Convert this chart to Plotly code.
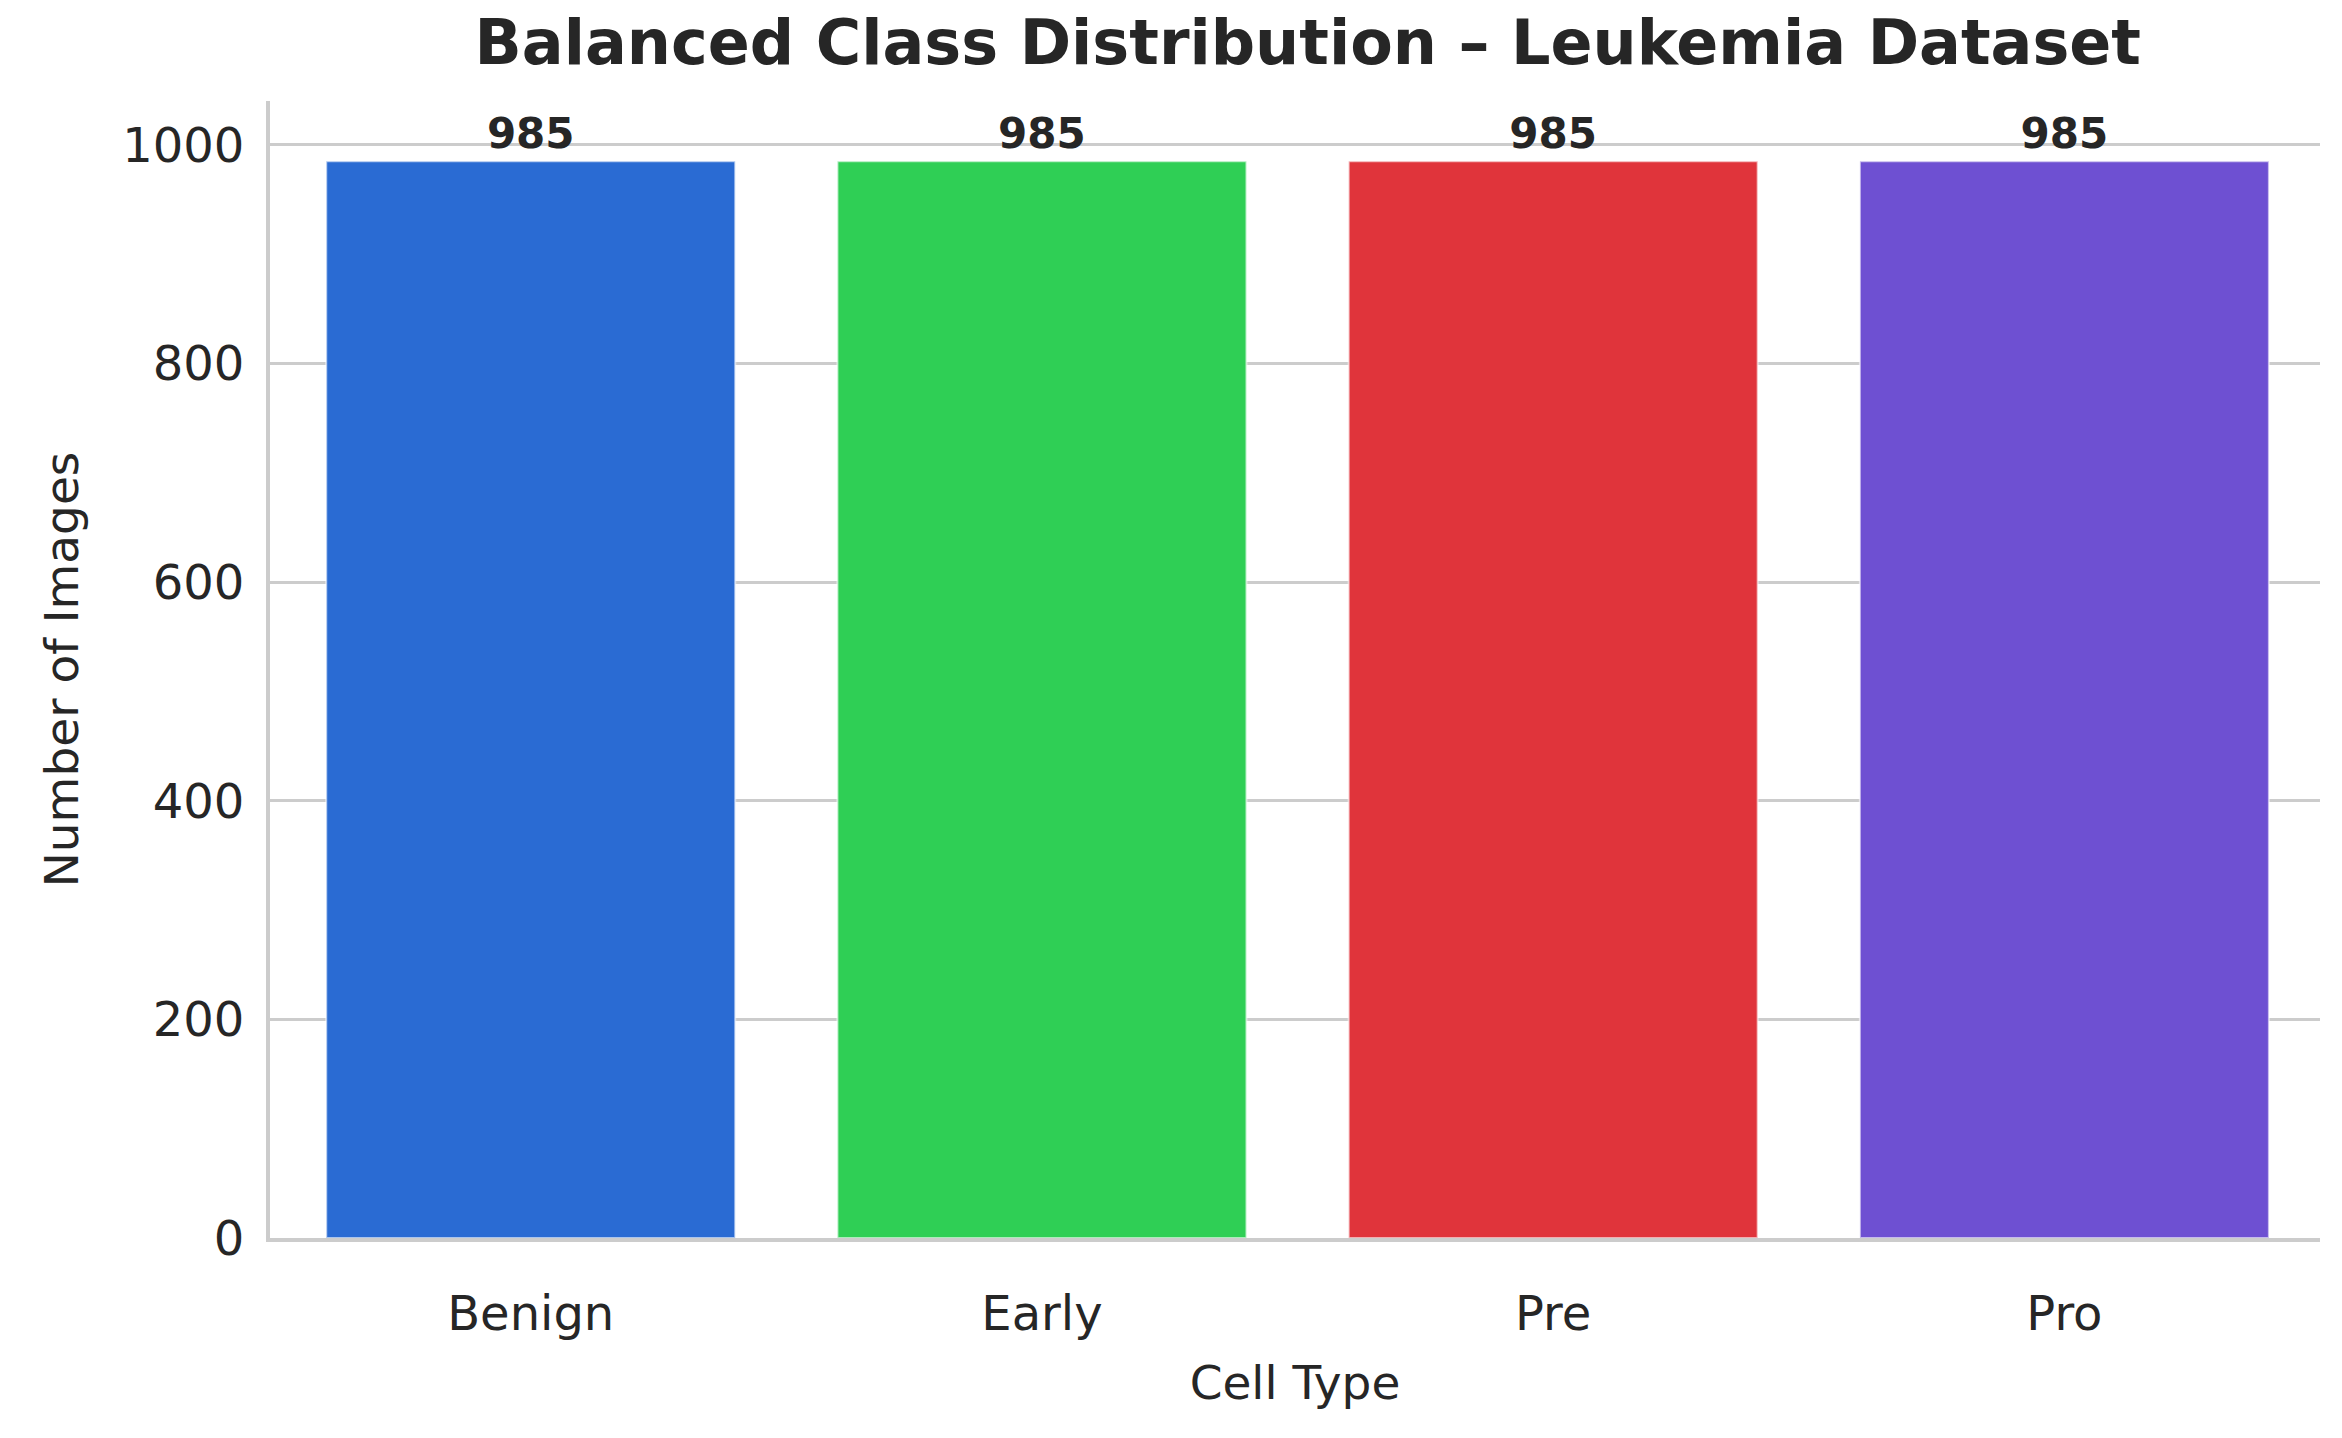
import plotly.graph_objects as go

# Data
categories = ["Benign", "Early", "Pre", "Pro"]
counts = [985, 985, 985, 985]
colors = ["#2a6bd3", "#2fcf55", "#e0343b", "#6e50d2"]

fig = go.Figure(
    go.Bar(
        x=categories,
        y=counts,
        marker=dict(color=colors, line=dict(color="rgba(255,255,255,0.6)", width=2)),
        text=[str(c) for c in counts],
        textposition="outside",
        cliponaxis=False,
        textfont=dict(family="DejaVu Sans", size=42, color="#262626", weight="bold"),
    )
)

fig.update_layout(
    width=2342,
    height=1438,
    paper_bgcolor="white",
    plot_bgcolor="white",
    margin=dict(l=262, r=30, t=93, b=208),
    bargap=0.2,
    font=dict(family="DejaVu Sans", color="#262626"),
    title=dict(
        text="<b>Balanced Class Distribution – Leukemia Dataset</b>",
        x=0.555, xanchor="center", y=0.976, yanchor="middle",
        font=dict(size=62, color="#262626"),
    ),
    xaxis=dict(
        title=dict(text="Cell Type", font=dict(size=47), standoff=28),
        tickfont=dict(size=48),
        showline=True, linecolor="#cccccc", linewidth=4,
        ticks="outside", ticklen=30, tickcolor="white",
        showgrid=False,
        range=[-0.51, 3.5],
    ),
    yaxis=dict(
        title=dict(text="Number of Images", font=dict(size=47), standoff=30),
        tickfont=dict(size=48),
        range=[0, 1040],
        tickvals=[0, 200, 400, 600, 800, 1000],
        showline=True, linecolor="#cccccc", linewidth=4,
        showgrid=True, gridcolor="#cccccc", gridwidth=2.5,
        zeroline=False,
        ticks="outside", ticklen=12, tickcolor="white",
    ),
    showlegend=False,
)

fig.write_html("out.html")
